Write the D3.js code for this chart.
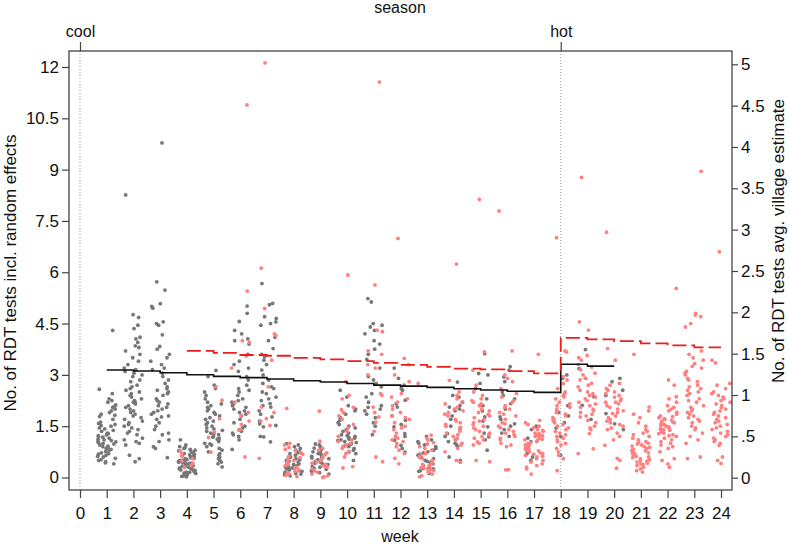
<!DOCTYPE html>
<html><head><meta charset="utf-8">
<script src="https://cdn.jsdelivr.net/npm/d3@7"></script>
<style>
html,body{margin:0;padding:0;background:#fff;}
svg text{font-family:"Liberation Sans",Arial,sans-serif;fill:#111;}
</style></head>
<body><svg id="c" width="789" height="544"></svg>
<script>
// ---- data ----
const weeks = d3.range(0, 25);
const leftTicks = [0, 1.5, 3, 4.5, 6, 7.5, 9, 10.5, 12];
const leftTickLabels = ["0","1.5","3","4.5","6","7.5","9","10.5","12"];
const rightTicks = [0, 0.5, 1, 1.5, 2, 2.5, 3, 3.5, 4, 4.5, 5];
const rightTickLabels = ["0",".5","1","1.5","2","2.5","3","3.5","4","4.5","5"];
const seasonWeeks = [0, 18];
const seasonLabels = ["cool", "hot"];

// per-week observations (left axis): gray group
const grayByWeek = [
 [],
 [4.3,2.58,2.45,2.3,2.25,2.2,2.12,2.08,2.05,2.0,1.95,1.9,1.85,1.82,1.78,1.7,1.62,1.58,1.55,1.52,1.5,1.45,1.42,1.38,1.35,1.3,1.28,1.25,1.22,1.2,1.18,1.15,1.12,1.1,1.08,1.06,1.04,1.02,1.0,0.98,0.95,0.92,0.9,0.88,0.85,0.82,0.8,0.76,0.72,0.7,0.68,0.65,0.62,0.6,0.56,0.52,0.5,0.46,0.43,0.4],
 [8.26,4.76,4.68,4.45,4.35,4.1,4.05,3.95,3.85,3.8,3.7,3.6,3.5,3.4,3.3,3.2,3.15,3.1,3.05,3.0,2.95,2.85,2.8,2.7,2.65,2.6,2.55,2.5,2.45,2.4,2.35,2.3,2.25,2.2,2.2,2.15,2.1,2.05,2.0,1.95,1.9,1.85,1.8,1.75,1.7,1.65,1.6,1.55,1.5,1.45,1.4,1.35,1.3,1.25,1.15,1.1,1.05,1.0,0.95,0.65,0.55,0.46],
 [9.78,5.72,5.48,5.08,5.0,4.95,4.55,4.5,4.45,4.17,3.83,3.75,3.6,3.5,3.4,3.3,3.2,3.15,3.05,2.95,2.85,2.75,2.65,2.6,2.55,2.5,2.45,2.4,2.3,2.25,2.2,2.15,2.1,2.05,2.0,1.95,1.9,1.85,1.8,1.77,1.7,1.6,1.5,1.4,1.3,1.25,1.1,1.05,0.9,0.85,0.58],
 [1.1,0.95,0.9,0.88,0.85,0.82,0.8,0.78,0.75,0.72,0.7,0.68,0.66,0.64,0.62,0.6,0.58,0.56,0.55,0.53,0.52,0.5,0.49,0.48,0.46,0.45,0.44,0.42,0.41,0.4,0.38,0.37,0.36,0.34,0.33,0.32,0.3,0.29,0.28,0.26,0.25,0.24,0.22,0.21,0.2,0.18,0.16,0.15,0.13,0.12,0.1,0.08,0.06,0.05,0.03,0.02],
 [3.13,2.95,2.7,2.6,2.5,2.4,2.3,2.2,2.15,2.1,2.05,2.0,1.95,1.9,1.85,1.8,1.75,1.7,1.65,1.6,1.55,1.5,1.45,1.42,1.38,1.35,1.3,1.28,1.25,1.2,1.18,1.15,1.12,1.1,1.05,1.0,0.98,0.95,0.9,0.85,0.8,0.75,0.7,0.65,0.6,0.55,0.5,0.45,0.4,0.31],
 [5.01,4.8,4.56,4.3,4.2,4.05,4.0,3.9,3.6,3.4,3.3,3.2,3.1,2.95,2.85,2.7,2.6,2.55,2.5,2.4,2.3,2.25,2.2,2.15,2.1,2.05,2.0,1.95,1.9,1.85,1.8,1.7,1.6,1.5,1.45,1.4,1.35,1.3,1.25,1.2,1.1,0.82],
 [5.67,5.09,5.05,4.7,4.65,4.55,4.5,4.45,4.1,4.0,3.77,3.6,3.53,3.43,3.3,3.14,3.0,2.85,2.75,2.65,2.6,2.5,2.45,2.35,2.3,2.25,2.16,2.1,2.06,1.95,1.85,1.77,1.65,1.57,1.52,1.48,1.2,1.19,1.04],
 [0.99,0.95,0.9,0.85,0.8,0.75,0.72,0.7,0.65,0.6,0.58,0.55,0.52,0.5,0.48,0.45,0.42,0.4,0.38,0.35,0.32,0.3,0.28,0.25,0.22,0.2,0.18,0.15,0.12,0.1,0.08,0.05],
 [0.98,0.95,0.9,0.86,0.82,0.8,0.75,0.72,0.7,0.66,0.62,0.6,0.57,0.55,0.52,0.5,0.47,0.45,0.42,0.4,0.38,0.35,0.32,0.3,0.27,0.24,0.2,0.17,0.14,0.1],
 [2.55,2.35,2.1,2.0,1.95,1.85,1.75,1.67,1.6,1.55,1.5,1.45,1.4,1.35,1.3,1.25,1.22,1.2,1.18,1.15,1.12,1.1,1.08,1.05,1.02,1.0,0.98,0.95,0.92,0.9,0.85,0.8,0.75,0.7,0.5],
 [5.23,5.13,4.5,4.45,4.4,4.3,4.2,4.0,3.9,3.75,3.6,3.45,3.2,2.95,2.85,2.75,2.65,2.45,2.35,2.2,2.1,2.05,2.0,1.95,1.85,1.75,1.6,1.5,1.25],
 [3.2,2.9,2.7,2.6,2.55,2.26,2.15,2.06,1.8,1.67,1.55,1.48,1.28,1.2,1.09,0.94,0.85,0.74],
 [1.2,1.1,1.05,1.0,0.95,0.9,0.85,0.8,0.75,0.72,0.68,0.65,0.6,0.58,0.55,0.5,0.47,0.45,0.42,0.4,0.35,0.3,0.27,0.25,0.2,0.18,0.12],
 [2.79,2.4,2.35,2.2,2.1,2.06,2.0,1.95,1.8,1.7,1.5,1.45,1.28,1.2,1.1,1.05,1.0,0.95,0.9,0.6,0.5,0.45],
 [3.62,3.04,3.0,2.75,2.6,2.3,2.1,1.95,1.77,1.65,1.48,1.3,1.19,1.1,0.8],
 [3.24,3.14,2.94,2.8,2.5,2.4,2.3,2.16,2.0,1.77,1.7,1.57,1.5,1.4,1.3,1.2],
 [1.5,1.4,1.25,1.15,1.05,0.95,0.85,0.7,0.6,0.5],
 [3.0,2.9,2.1,1.9,1.8,1.7,1.6,1.45,1.2,0.65],
 [3.74,3.18,2.9,2.36,2.11,1.7],
 [2.9,2.8,2.55,2.4,1.87,1.57,1.4],
 [],[],[],[]
];
// per-week observations (left axis): salmon group
const salmonByWeek = [
 [],[],[],[],
 [0.78,0.7,0.62,0.55,0.48,0.42,0.35,0.3],
 [2.65,2.26,1.72,1.33,1.17,0.74],
 [10.89,5.45,4.0,3.95,3.55,3.2,2.2,1.9,1.8,1.65,1.55,1.4,1.38,0.6],
 [12.12,6.12,4.94,4.2,4.15,3.43,2.65,2.06,1.9,1.72,1.65,1.52,0.56],
 [2.02,1.0,0.95,0.88,0.82,0.78,0.72,0.68,0.62,0.58,0.53,0.5,0.46,0.43,0.38,0.35,0.3,0.27,0.22,0.18,0.14,0.1,0.06,0.03],
 [1.94,1.06,0.85,0.8,0.72,0.68,0.6,0.56,0.5,0.46,0.42,0.38,0.34,0.3,0.25,0.2,0.15,0.1,0.05,0.02,0.0],
 [5.92,2.8,2.4,2.3,2.05,1.98,1.9,1.8,1.7,1.55,1.45,1.35,1.2,1.1,1.05,1.0,0.95,0.9,0.85,0.75,0.7,0.6,0.32,0.28],
 [11.56,5.63,4.31,4.26,3.7,3.6,3.3,3.2,3.0,2.45,2.4,2.06,1.9,1.77,1.62,1.35,0.6,0.46],
 [6.99,3.48,3.3,3.0,2.8,2.45,2.35,2.3,2.2,2.1,2.0,1.9,1.8,1.75,1.7,1.6,1.5,1.45,1.4,1.3,1.2,1.15,1.1,1.05,1.0,0.9,0.8,0.7,0.56,0.4],
 [2.75,1.24,1.15,1.1,1.02,0.98,0.9,0.85,0.8,0.7,0.65,0.6,0.55,0.5,0.45,0.4,0.38,0.35,0.3,0.28,0.25,0.22,0.2,0.15,0.1,0.05,0.02],
 [6.24,2.84,2.5,2.4,2.3,2.2,2.15,2.05,2.0,1.95,1.9,1.85,1.8,1.7,1.65,1.6,1.55,1.5,1.45,1.4,1.35,1.3,1.25,1.2,1.15,1.1,1.0,0.95,0.85,0.75,0.5,0.45],
 [8.13,3.67,3.14,2.7,2.5,2.4,2.3,2.25,2.2,2.15,2.1,2.0,1.95,1.9,1.85,1.8,1.75,1.7,1.65,1.6,1.55,1.5,1.45,1.4,1.35,1.3,1.25,1.2,1.15,1.1,1.04,1.0,0.95,0.5,0.46],
 [7.79,3.7,3.0,2.9,2.8,2.6,2.45,2.35,2.25,2.2,2.1,2.05,2.0,1.9,1.85,1.8,1.7,1.6,1.57,1.5,1.45,1.4,1.35,1.3,1.25,1.2,1.15,1.1,1.0,0.95,0.9,0.23,0.22],
 [3.6,1.67,1.6,1.55,1.5,1.45,1.4,1.38,1.35,1.3,1.28,1.25,1.22,1.2,1.18,1.15,1.12,1.1,1.08,1.05,1.02,1.0,0.98,0.95,0.92,0.9,0.88,0.85,0.82,0.8,0.78,0.75,0.72,0.7,0.68,0.65,0.62,0.6,0.55,0.5,0.45,0.4,0.35,0.3,0.25,0.1],
 [7.01,3.7,3.67,2.95,2.85,2.75,2.6,2.5,2.45,2.4,2.35,2.3,2.2,2.15,2.1,2.05,2.0,1.95,1.9,1.85,1.8,1.75,1.7,1.65,1.6,1.55,1.5,1.45,1.4,1.35,1.3,1.25,1.2,1.15,1.1,1.05,1.0,0.95,0.85,0.75,0.65,0.55,0.2],
 [8.77,4.55,4.31,3.57,3.5,3.43,3.3,3.23,3.15,3.05,3.0,2.9,2.85,2.75,2.7,2.65,2.55,2.5,2.45,2.4,2.35,2.3,2.25,2.2,2.15,2.1,2.05,2.0,1.95,1.9,1.85,1.8,1.77,1.67,1.6,1.5,1.45,1.4,1.28,0.84,0.7],
 [7.17,3.77,3.43,2.75,2.7,2.6,2.55,2.5,2.45,2.4,2.35,2.3,2.25,2.2,2.2,2.15,2.1,2.05,2.0,1.95,1.9,1.87,1.8,1.75,1.7,1.65,1.6,1.55,1.5,1.45,1.4,1.3,1.2,1.1,0.94,0.56,0.5,0.27],
 [3.6,2.06,1.95,1.85,1.75,1.6,1.5,1.4,1.35,1.3,1.25,1.2,1.15,1.1,1.05,1.02,1.0,0.98,0.95,0.92,0.9,0.88,0.85,0.82,0.8,0.78,0.75,0.72,0.7,0.68,0.65,0.62,0.6,0.58,0.55,0.52,0.5,0.48,0.45,0.42,0.4,0.38,0.35,0.3,0.25,0.2,0.16],
 [5.53,2.85,2.7,2.36,2.3,2.2,2.1,2.05,2.0,1.95,1.9,1.85,1.8,1.78,1.75,1.72,1.7,1.68,1.65,1.62,1.6,1.58,1.55,1.52,1.5,1.48,1.45,1.42,1.4,1.38,1.35,1.32,1.3,1.28,1.25,1.22,1.2,1.15,1.1,1.05,1.0,0.95,0.9,0.85,0.75,0.55,0.5,0.4,0.3],
 [8.95,4.8,4.75,4.7,4.5,4.4,3.7,3.6,3.5,3.43,3.33,3.25,3.2,3.1,3.05,3.0,2.9,2.85,2.8,2.7,2.65,2.6,2.55,2.5,2.45,2.4,2.3,2.25,2.2,2.1,2.05,2.0,1.95,1.9,1.85,1.8,1.75,1.7,1.65,1.6,1.5,1.45,1.4,1.3,1.2,1.1,1.0,0.6,0.55],
 [6.6,3.43,3.35,2.75,2.7,2.6,2.5,2.45,2.4,2.35,2.3,2.25,2.2,2.15,2.1,2.05,2.0,1.95,1.9,1.85,1.8,1.75,1.7,1.65,1.6,1.55,1.5,1.45,1.4,1.35,1.3,1.25,1.2,1.15,1.1,1.05,1.0,0.94,0.6,0.5,0.41]
];
// model step estimates (right axis)
const solidWeeks = [1,2,3,4,5,6,7,8,9,10,11,12,13,14,15,16,17,18,19,20];
const solidValues = [1.302,1.29,1.27,1.245,1.226,1.21,1.193,1.173,1.157,1.14,1.12,1.107,1.093,1.076,1.06,1.045,1.032,1.373,1.35,1.35];
const dashedWeeks = [4,5,6,7,8,9,10,11,12,13,14,15,16,17,18,19,20,21,22,23,24];
const dashedValues = [1.535,1.51,1.484,1.475,1.45,1.43,1.41,1.39,1.365,1.34,1.32,1.31,1.29,1.262,1.69,1.673,1.653,1.625,1.6,1.577,1.577];

// ---- layout ----
const svg = d3.select("#c");
const L = 69, R = 732, T = 51, B = 490;
const x = d3.scaleLinear().domain([0, 24]).range([80, 721]);
const yL = d3.scaleLinear().domain([0, 12]).range([477.5, 67]);
const yR = d3.scaleLinear().domain([0, 5]).range([477.7, 64.3]);
const axisCol = "#444";

// season dotted lines
svg.selectAll("line.season").data(seasonWeeks).join("line")
  .attr("x1", d => x(d)).attr("x2", d => x(d))
  .attr("y1", T).attr("y2", B)
  .attr("stroke", "#9a9a9a").attr("stroke-width", 1).attr("stroke-dasharray", "1,2");

// points (horizontal jitter only: deterministic hash of index)
function jitter(i, w) {
  const s = Math.sin(i * 127.1 + w * 311.7) * 43758.5453;
  return ((s - Math.floor(s)) - 0.5) * 0.7;
}
const ptsGray = [], ptsSalmon = [];
grayByWeek.forEach((arr, w) => arr.forEach((v, i) => ptsGray.push({w, v, j: jitter(i, w)})));
salmonByWeek.forEach((arr, w) => arr.forEach((v, i) => ptsSalmon.push({w, v, j: jitter(i + 101, w + 7)})));
svg.append("g").selectAll("circle").data(ptsGray).join("circle")
  .attr("cx", d => x(d.w + d.j)).attr("cy", d => yL(d.v)).attr("r", 1.9).attr("fill", "#777777");
svg.append("g").selectAll("circle").data(ptsSalmon).join("circle")
  .attr("cx", d => x(d.w + d.j)).attr("cy", d => yL(d.v)).attr("r", 1.9).attr("fill", "#ff8080");

// model lines
const stepLine = d3.line().curve(d3.curveStepAfter).x(d => x(d[0])).y(d => yR(d[1]));
svg.append("path").attr("d", stepLine(solidWeeks.map((w, i) => [w, solidValues[i]])))
  .attr("fill", "none").attr("stroke", "#111").attr("stroke-width", 1.6);
svg.append("path").attr("d", stepLine(dashedWeeks.map((w, i) => [w, dashedValues[i]])))
  .attr("fill", "none").attr("stroke", "#ee1c1c").attr("stroke-width", 1.8).attr("stroke-dasharray", "14,5");

// frame
svg.append("rect").attr("x", L).attr("y", T).attr("width", R - L).attr("height", B - T)
  .attr("fill", "none").attr("stroke", axisCol).attr("stroke-width", 1.3);

// axes
const fs = 17;
function styleAxis(g) {
  g.select(".domain").remove();
  g.selectAll(".tick line").attr("stroke", axisCol).attr("stroke-width", 1.2);
  g.selectAll(".tick text").attr("font-size", fs).attr("fill", "#111");
}
svg.append("g").attr("transform", `translate(0,${B})`)
  .call(d3.axisBottom(x).tickValues(weeks).tickFormat(d3.format("d")).tickSize(8).tickPadding(9))
  .call(styleAxis);
svg.append("g").attr("transform", `translate(${L},0)`)
  .call(d3.axisLeft(yL).tickValues(leftTicks).tickFormat((d, i) => leftTickLabels[i]).tickSize(7).tickPadding(3))
  .call(styleAxis);
svg.append("g").attr("transform", `translate(${R},0)`)
  .call(d3.axisRight(yR).tickValues(rightTicks).tickFormat((d, i) => rightTickLabels[i]).tickSize(6).tickPadding(3))
  .call(styleAxis);
svg.append("g").attr("transform", `translate(0,${T})`)
  .call(d3.axisTop(x).tickValues(seasonWeeks).tickFormat((d, i) => seasonLabels[i]).tickSize(9).tickPadding(5))
  .call(styleAxis)
  .selectAll(".tick text").attr("font-size", 16);

// titles
svg.append("text").attr("x", 400).attr("y", 12.5).attr("text-anchor", "middle").attr("font-size", 16).text("season");
svg.append("text").attr("x", 400).attr("y", 541.5).attr("text-anchor", "middle").attr("font-size", 16).text("week");
svg.append("text").attr("transform", "translate(15.5,273) rotate(-90)").attr("text-anchor", "middle")
  .attr("font-size", 17).text("No. of RDT tests incl. random effects");
svg.append("text").attr("transform", "translate(784,241) rotate(-90)").attr("text-anchor", "middle")
  .attr("font-size", 17).text("No. of RDT tests avg. village estimate");
</script></body></html>
